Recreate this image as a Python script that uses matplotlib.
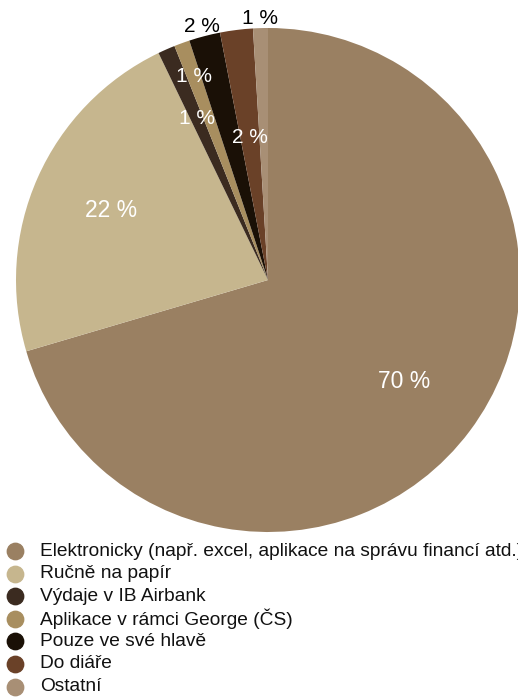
import matplotlib
matplotlib.use("Agg")
import matplotlib.pyplot as plt
import numpy as np

categories = [
    "Elektronicky (např. excel, aplikace na správu financí atd.)",
    "Ručně na papír",
    "Výdaje v IB Airbank",
    "Aplikace v rámci George (ČS)",
    "Pouze ve své hlavě",
    "Do diáře",
    "Ostatní",
]
values = [70.4, 22.4, 1.1, 1.0, 2.0, 2.1, 0.95]
labels = ["70 %", "22 %", "1 %", "1 %", "2 %", "2 %", "1 %"]

colors = ["#9a8062", "#c6b68e", "#3b2b20", "#a88e5f", "#1a1006", "#6a4128", "#a88f75"]
label_radius = [0.675, 0.68, 0.70, 0.86, 1.04, 0.57, 1.04]
label_color = ["white", "white", "white", "white", "black", "white", "black"]
label_size = [16.5, 16.5, 15, 15, 15, 15, 15]

W, H = 518, 698
plt.rcParams['font.family'] = ['Liberation Sans', 'DejaVu Sans']
fig = plt.figure(figsize=(W / 100, H / 100), dpi=100)

cx, cy, r = 268, 280, 252
ax = fig.add_axes([(cx - r) / W, (H - cy - r) / H, 2 * r / W, 2 * r / H])
wedges, _ = ax.pie(values, colors=colors, startangle=90, counterclock=False,
                   radius=1, wedgeprops=dict(linewidth=0))
ax.set_xlim(-1, 1)
ax.set_ylim(-1, 1)
ax.set_aspect('equal')
ax.axis('off')

for w, lab, rr, c, s in zip(wedges, labels, label_radius, label_color, label_size):
    mid = np.deg2rad((w.theta1 + w.theta2) / 2)
    ax.text(rr * np.cos(mid), rr * np.sin(mid), lab, color=c, fontsize=s,
            ha='center', va='center', clip_on=False)

# legend
y0, dy = 551, 22.6
for i, (cat, col) in enumerate(zip(categories, colors)):
    y = 1 - (y0 + i * dy) / H
    fig.lines.append(matplotlib.lines.Line2D([15 / W], [y], marker='o', markersize=11.8,
                                             color=col, linestyle='none',
                                             transform=fig.transFigure))
    fig.text(40 / W, y, cat, fontsize=13.8, color='#111111', ha='left', va='center')

fig.savefig("out.png", dpi=100)
